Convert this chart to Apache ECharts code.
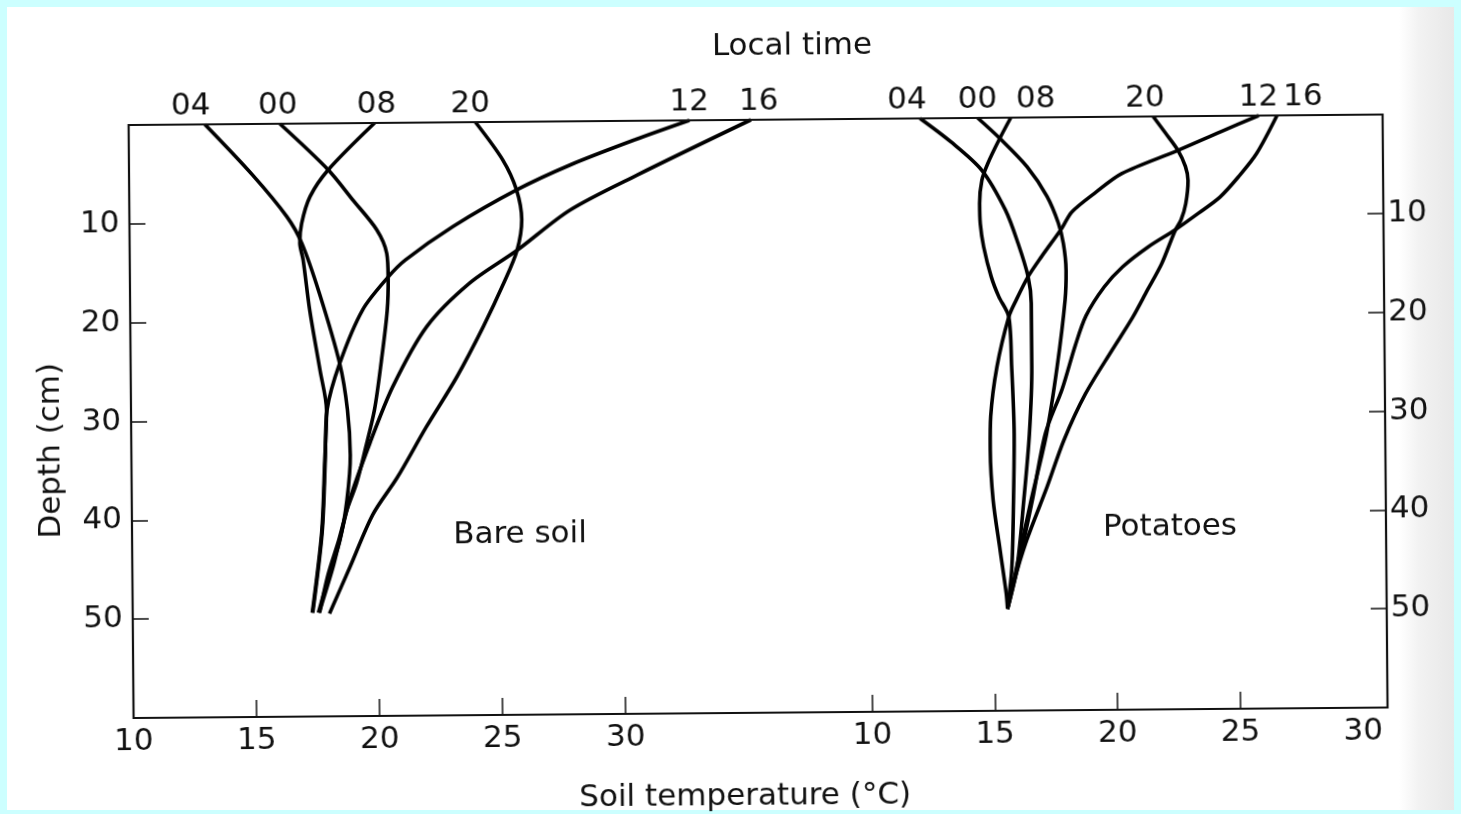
<!DOCTYPE html>
<html>
<head>
<meta charset="utf-8">
<title>Soil temperature profiles</title>
<script src="https://cdn.jsdelivr.net/npm/echarts@6/dist/echarts.min.js"></script>
<style>
  html, body { margin: 0; padding: 0; background: #ccffff; overflow: hidden; }
  #sheet {
    position: absolute; left: 7px; top: 7px; width: 1447px; height: 803px;
    background: linear-gradient(to right, #fff 0, #fff 1392px, #f2f2f2 1412px, #e8e8e8 100%);
  }
  #chart {
    position: absolute; left: 0; top: 0; width: 1461px; height: 814px;
    transform: rotate(-0.48deg); transform-origin: 730.5px 407px;
  }
</style>
</head>
<body>
<div id="sheet"></div>
<div id="chart"></div>
<script>
// Soil temperature profiles at six local times: [temperature °C, depth cm]

// Bare soil
const bare04 = [[13.1,0],[15.0,5.1],[16.4,9.4],[17.0,12.1],[17.7,17.2],[18.5,24.3],[18.8,29.0],[18.9,33.6],[18.75,38.1],[18.45,42.2],[18.0,45.7],[17.55,49.5]];
const bare00 = [[16.15,0],[18.1,4.7],[19.1,7.8],[20.05,10.8],[20.45,13.2],[20.5,15.6],[20.45,19.0],[20.2,24.0],[19.9,29.0],[19.5,33.1],[19.15,36.4],[18.75,39.1],[18.4,42.2],[17.95,45.7],[17.6,49.5]];
const bare08 = [[20.0,0],[18.1,4.7],[17.35,7.4],[17.0,10.1],[16.92,12.1],[17.05,13.8],[17.3,18.9],[17.7,25.0],[17.95,29.0],[17.86,34.1],[17.71,41.4],[17.3,49.5]];
const bare20 = [[24.1,0],[25.2,3.85],[25.75,6.9],[25.95,9.9],[25.75,13.0],[25.2,16.3],[24.35,20.7],[23.25,25.8],[22.0,30.8],[20.8,35.9],[19.8,39.6],[18.85,44.9],[18.0,49.6]];
const bare12 = [[32.8,0],[30.6,1.9],[27.95,4.4],[25.75,6.9],[23.15,10.55],[21.2,13.9],[20.5,15.6],[19.45,18.9],[18.5,24.3],[17.97,29.0],[17.88,34.1],[17.73,41.4],[17.32,49.5]];
const bare16 = [[35.3,0],[30.65,5.5],[27.9,9.0],[25.75,13.0],[23.8,16.3],[22.05,20.65],[20.65,26.7],[19.7,32.4],[18.86,38.1],[18.44,42.2],[18.16,44.9],[17.58,49.5]];

// Potatoes
const pot04 = [[12.15,0],[13.4,2.4],[14.65,5.3],[15.6,9.35],[16.1,12.7],[16.5,16.1],[16.62,18.8],[16.62,25.2],[16.5,32.0],[16.25,38.7],[15.95,45.5],[15.55,49.7]];
const pot00 = [[14.5,0],[15.4,2.1],[16.5,5.0],[17.3,8.0],[17.75,10.7],[17.95,12.8],[18.05,15.5],[18.0,18.5],[17.65,25.3],[17.2,32.0],[16.55,38.7],[16.0,44.8],[15.55,49.7]];
const pot08 = [[15.85,0],[15.35,2.3],[14.9,4.6],[14.65,6.3],[14.55,8.65],[14.57,10.7],[14.7,13.05],[15.0,16.1],[15.3,18.1],[15.7,20.15],[15.8,25.2],[15.88,32.0],[15.83,38.7],[15.74,45.5],[15.55,49.7]];
const pot20 = [[21.65,0],[22.15,1.7],[22.65,3.45],[22.95,5.1],[23.05,6.5],[22.95,8.85],[22.75,10.5],[22.5,11.6],[21.95,14.9],[21.35,17.6],[20.75,20.3],[19.9,23.6],[18.8,28.0],[17.9,32.7],[17.2,37.4],[16.35,42.8],[15.8,47.1],[15.55,49.7]];
const pot12 = [[25.95,0],[24.4,1.6],[22.65,3.45],[20.35,5.75],[19.3,7.6],[18.3,9.6],[17.9,11.2],[17.05,14.1],[16.5,16.1],[16.0,18.5],[15.7,20.15],[15.2,25.2],[14.93,30.2],[14.9,33.6],[15.0,38.7],[15.27,43.8],[15.5,48.1],[15.55,49.7]];
const pot16 = [[26.7,0],[25.85,3.85],[25.1,6.2],[24.35,8.2],[23.45,9.85],[22.5,11.5],[21.4,13.2],[20.35,15.2],[19.6,17.2],[18.85,20.1],[18.4,23.1],[17.85,27.5],[17.15,32.0],[16.6,38.7],[16.05,44.8],[15.55,49.7]];

// Axis ticks and labels
const tempTicksBare = [15, 20, 25, 30];
const tempLabelsBare = [10, 15, 20, 25, 30];
const tempTicksPot = [10, 15, 20, 25];
const tempLabelsPot = [10, 15, 20, 25, 30];
const depthTicks = [10, 20, 30, 40, 50];

const bareProfiles = [['04', bare04], ['00', bare00], ['08', bare08], ['20', bare20], ['12', bare12], ['16', bare16]];
const potProfiles  = [['04', pot04], ['00', pot00], ['08', pot08], ['20', pot20], ['12', pot12], ['16', pot16]];

// Horizontal nudges of the time labels above each curve's surface point
const bareLabelShift = { '04': -14, '00': -2, '08': 2, '20': -5, '12': 0, '16': 8 };
const potLabelShift  = { '04': -13, '00': 0, '08': 25, '20': -8, '12': 0, '16': 26 };

const FONT = 'DejaVu Sans';
const INK = '#111';
const FS = 31;

function profile(time, points, idx, shift) {
  return {
    type: 'line', name: time,
    xAxisIndex: idx, yAxisIndex: idx,
    data: points.map((p, i) => i === 0
      ? { value: p, label: { show: true, formatter: time, position: 'top', distance: 3, offset: [shift, 0] } }
      : p),
    smooth: 0.3,
    showSymbol: true, symbol: 'circle', symbolSize: 0,
    clip: false, silent: true,
    lineStyle: { color: '#000', width: 3.6 },
    itemStyle: { color: '#000' },
    label: { show: false, color: INK, fontFamily: FONT, fontSize: FS },
    emphasis: { disabled: true },
    z: 3
  };
}

function tempAxis(idx, min, max, ticks, labels) {
  return {
    gridIndex: idx, type: 'value', min: min, max: max, position: 'bottom',
    axisLine: { show: false, onZero: false }, splitLine: { show: false },
    axisTick: { show: true, inside: true, length: 17, customValues: ticks, lineStyle: { color: INK, width: 1.5 } },
    axisLabel: { customValues: labels, margin: 8, color: INK, fontFamily: FONT, fontSize: FS }
  };
}

function depthAxis(idx, side, margin) {
  return {
    gridIndex: idx, type: 'value', min: 0, max: 60, inverse: true, position: side,
    axisLine: { show: false, onZero: false }, splitLine: { show: false },
    axisTick: { show: true, inside: true, length: 16, customValues: depthTicks, lineStyle: { color: INK, width: 1.5 } },
    axisLabel: { customValues: depthTicks, margin: margin, color: INK, fontFamily: FONT, fontSize: FS }
  };
}

// Plot frame shared by both panels
const frame = { left: 131, top: 120, right: 1385, bottom: 713 };
const split = 770.5;

const chart = echarts.init(document.getElementById('chart'), null, { renderer: 'canvas' });
chart.setOption({
  animation: false,
  backgroundColor: 'transparent',
  grid: [
    { left: frame.left, top: frame.top, width: split - frame.left, height: frame.bottom - frame.top },
    { left: split + 1, top: frame.top, width: frame.right - split - 1, height: frame.bottom - frame.top }
  ],
  xAxis: [
    tempAxis(0, 10, 36, tempTicksBare, tempLabelsBare),
    tempAxis(1, 6, 31, tempTicksPot, tempLabelsPot)
  ],
  yAxis: [
    depthAxis(0, 'left', 10),
    depthAxis(1, 'right', 4)
  ],
  series: [
    ...bareProfiles.map(([t, d]) => profile(t, d, 0, bareLabelShift[t])),
    ...potProfiles.map(([t, d]) => profile(t, d, 1, potLabelShift[t]))
  ],
  graphic: [
    { type: 'rect', z: 10, silent: true,
      shape: { x: frame.left, y: frame.top, width: frame.right - frame.left, height: frame.bottom - frame.top },
      style: { fill: 'none', stroke: INK, lineWidth: 2.2 } },
    { type: 'text', x: 795, y: 47, silent: true,
      style: { text: 'Local time', fill: INK, fontFamily: FONT, fontSize: FS, align: 'center', verticalAlign: 'middle' } },
    { type: 'text', x: 742, y: 797, silent: true,
      style: { text: 'Soil temperature (°C)', fill: INK, fontFamily: FONT, fontSize: FS, align: 'center', verticalAlign: 'middle' } },
    { type: 'text', x: 51, y: 445, rotation: Math.PI / 2, silent: true,
      style: { text: 'Depth (cm)', fill: INK, fontFamily: FONT, fontSize: FS, align: 'center', verticalAlign: 'middle' } },
    { type: 'text', x: 519, y: 533, silent: true,
      style: { text: 'Bare soil', fill: INK, fontFamily: FONT, fontSize: FS, align: 'center', verticalAlign: 'middle' } },
    { type: 'text', x: 1169, y: 531, silent: true,
      style: { text: 'Potatoes', fill: INK, fontFamily: FONT, fontSize: FS, align: 'center', verticalAlign: 'middle' } }
  ]
});
</script>
</body>
</html>
